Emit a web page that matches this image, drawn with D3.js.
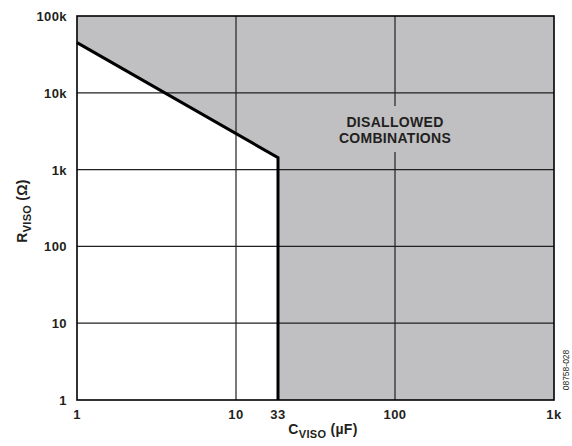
<!DOCTYPE html>
<html>
<head>
<meta charset="utf-8">
<script src="https://cdn.jsdelivr.net/npm/d3@7"></script>
<style>
  body { margin: 0; background: #fff; }
  text { font-family: "Liberation Sans", Arial, sans-serif; }
</style>
</head>
<body>
<svg id="chart" width="572" height="446"></svg>
<script>
// boundary curve: R_VISO max vs C_VISO
const boundaryC = [1, 33, 33];
const boundaryR = [45000, 1430, 1];
const xTicks = [1, 10, 33, 100, 1000];
const xTickLabels = ['1', '10', '33', '100', '1k'];
const yTicks = [1, 10, 100, 1000, 10000, 100000];
const yTickLabels = ['1', '10', '100', '1k', '10k', '100k'];
const xGrid = [10, 100];
const yGrid = [10, 100, 1000, 10000];

const width = 572, height = 446;
const svg = d3.select('#chart');

// the original places the 33 line schematically, so the x scale is piecewise
const x = d3.scaleLog().domain([1, 10, 33, 100, 1000]).range([77, 236, 278, 395, 554]);
const y = d3.scaleLog().domain([1, 100000]).range([400, 16]);

const pts = boundaryC.map((c, i) => [c, boundaryR[i]]);
const line = d3.line().x(d => x(d[0])).y(d => y(d[1]));
const ink = '#231f20';

// disallowed region
const area = [...pts, [1000, 1], [1000, 100000], [1, 100000]];
svg.append('path')
    .attr('d', line(area) + 'Z')
    .style('fill', '#c0c0c2');

// grid
svg.append('g').selectAll('line')
    .data(xGrid).enter().append('line')
    .attr('x1', d => x(d)).attr('x2', d => x(d))
    .attr('y1', y(1)).attr('y2', y(100000))
    .style('stroke', ink).style('stroke-width', 1.2);
svg.append('g').selectAll('line')
    .data(yGrid).enter().append('line')
    .attr('y1', d => y(d)).attr('y2', d => y(d))
    .attr('x1', x(1)).attr('x2', x(1000))
    .style('stroke', ink).style('stroke-width', 1.2);

// label box over the grid
const lx = x(100), ly = 128;
svg.append('rect')
    .attr('x', lx - 70).attr('y', ly - 22).attr('width', 140).attr('height', 46)
    .style('fill', '#c0c0c2');
const lab = svg.append('text')
    .attr('text-anchor', 'middle')
    .style('font-size', '14px').style('font-weight', 'bold').style('fill', ink)
    .style('letter-spacing', '0.3px');
lab.append('tspan').attr('x', lx).attr('y', ly - 1).text('DISALLOWED');
lab.append('tspan').attr('x', lx).attr('y', ly + 15).text('COMBINATIONS');

// boundary line
svg.append('path')
    .attr('d', line(pts))
    .style('fill', 'none').style('stroke', '#000').style('stroke-width', 3)
    .style('stroke-linejoin', 'miter');

// frame
svg.append('rect')
    .attr('x', x(1)).attr('y', y(100000))
    .attr('width', x(1000) - x(1)).attr('height', y(1) - y(100000))
    .style('fill', 'none').style('stroke', '#000').style('stroke-width', 1.6);

// tick labels
svg.append('g').selectAll('text')
    .data(xTicks).enter().append('text')
    .attr('x', d => x(d)).attr('y', y(1) + 19)
    .attr('text-anchor', 'middle')
    .style('font-size', '13px').style('font-weight', 'bold').style('fill', ink)
    .style('letter-spacing', '0.4px')
    .text((d, i) => xTickLabels[i]);
svg.append('g').selectAll('text')
    .data(yTicks).enter().append('text')
    .attr('x', x(1) - 10).attr('y', d => y(d) + 5)
    .attr('text-anchor', 'end')
    .style('font-size', '13px').style('font-weight', 'bold').style('fill', ink)
    .style('letter-spacing', '0.4px')
    .text((d, i) => yTickLabels[i]);

// axis titles
const xt = svg.append('text')
    .attr('x', 323).attr('y', 434)
    .attr('text-anchor', 'middle')
    .style('font-size', '14px').style('font-weight', 'bold').style('fill', ink)
    .style('letter-spacing', '0.3px');
xt.append('tspan').text('C');
xt.append('tspan').attr('dy', 4).style('font-size', '11px').text('VISO');
xt.append('tspan').attr('dy', -4).text(' (µF)');

const yt = svg.append('text')
    .attr('transform', 'translate(27, 211) rotate(-90)')
    .attr('text-anchor', 'middle')
    .style('font-size', '14px').style('font-weight', 'bold').style('fill', ink)
    .style('letter-spacing', '0.3px');
yt.append('tspan').text('R');
yt.append('tspan').attr('dy', 4).style('font-size', '11px').text('VISO');
yt.append('tspan').attr('dy', -4).text(' (Ω)');

// figure id
svg.append('text')
    .attr('transform', 'translate(569, 370) rotate(-90)')
    .attr('text-anchor', 'middle')
    .style('font-size', '8.5px').style('fill', ink)
    .text('08758-028');
</script>
</body>
</html>
